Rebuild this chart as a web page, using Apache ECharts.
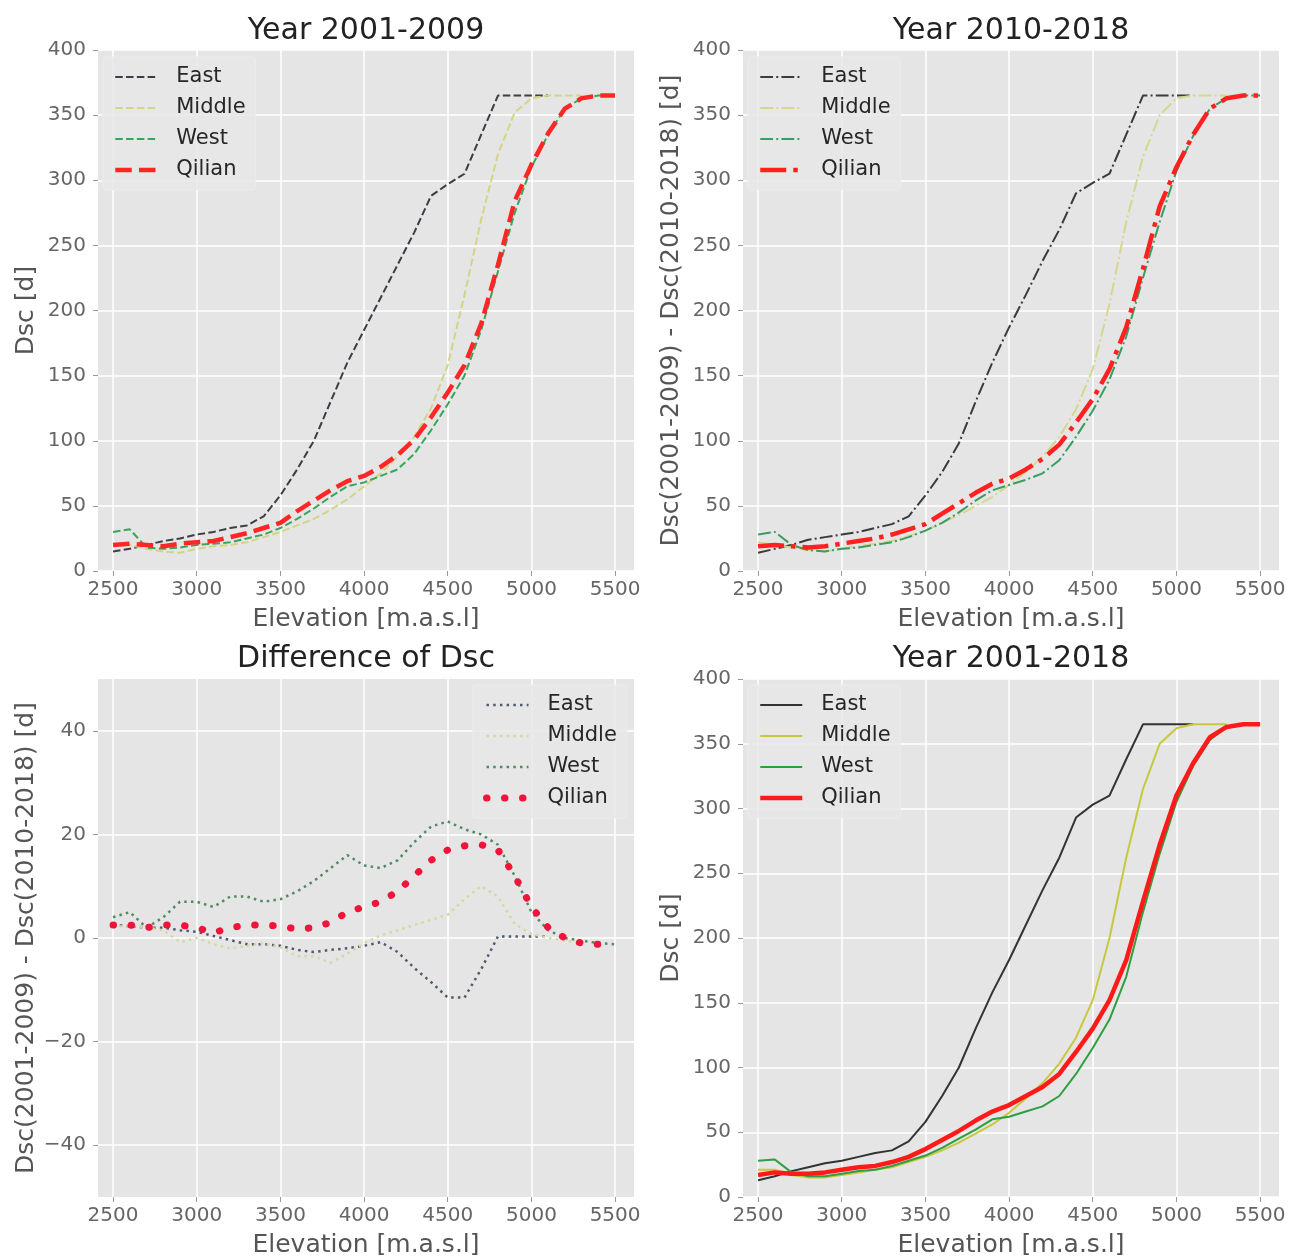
<!DOCTYPE html>
<html>
<head>
<meta charset="utf-8">
<script src="https://cdn.jsdelivr.net/npm/echarts@6/dist/echarts.min.js"></script>
<style>
html,body{margin:0;padding:0;background:#ffffff;}
#chart{width:1291px;height:1259px;}
</style>
</head>
<body>
<div id="chart"></div>
<script>
// ---------------- data ----------------
const elevation = [2500,2600,2700,2800,2900,3000,3100,3200,3300,3400,3500,3600,3700,3800,3900,4000,
                   4100,4200,4300,4400,4500,4600,4700,4800,4900,5000,5100,5200,5300,5400,5500];
const xTickValues = [2500,3000,3500,4000,4500,5000,5500];
const diffTickValues = [-40,-20,0,20,40];
const regions = ['East','Middle','West','Qilian'];
const panelTitles = ['Year 2001-2009','Year 2010-2018','Difference of Dsc','Year 2001-2018'];
const yAxisNames = ['Dsc [d]','Dsc(2001-2009) - Dsc(2010-2018) [d]','Dsc(2001-2009) - Dsc(2010-2018) [d]','Dsc [d]'];
const xAxisName = 'Elevation [m.a.s.l]';

// Year 2001-2009
const east0109   = [15,17,20,23,25,28,30,33,35,42,58,78,100,130,160,185,210,235,260,288,297,305,335,365,365,365,365];
const middle0109 = [21,20,17,15,14,17,19,20,22,26,30,35,40,47,55,65,75,88,103,125,158,212,270,320,352,363,365,365,365];
const west0109   = [30,32,18,17,18,20,21,22,25,28,33,40,48,57,65,68,73,78,90,108,128,150,185,230,275,310,335,355,363,365,365];
const qilian0109 = [20,21,20,19,21,22,23,26,29,33,37,46,54,62,69,73,80,89,101,118,137,158,190,235,284,312,336,355,363,365,365];

// Year 2010-2018
const east1018   = [14,17,20,24,26,28,30,33,36,42,58,76,98,130,160,187,212,238,262,290,298,305,335,365,365,365,365];
const middle1018 = [22,20,18,16,15,17,19,21,23,27,31,37,43,50,57,66,76,88,103,124,155,205,268,318,350,363,365,365,365];
const west1018   = [28,30,20,16,15,17,18,20,22,26,31,37,45,54,62,66,70,75,85,103,123,147,180,225,268,307,334,355,363,365,365];
const qilian1018 = [19,20,19,18,19,21,23,25,28,32,36,44,52,60,67,71,78,86,97,114,132,155,187,232,280,310,335,355,363,365,365];

// Difference of Dsc
const eastDiff   = [2.5,2.3,2,2,1.5,1.2,0.4,-0.4,-1.2,-1.2,-1.5,-2.3,-2.7,-2.3,-2,-1.5,-0.8,-2.7,-5.8,-8.5,-11.5,-11.5,-6,0.3,0.3,0.3,0.3];
const middleDiff = [2,2.5,2,1.5,-0.8,0,-1.2,-2,-1.5,-1,-1.8,-3.5,-3.5,-4.8,-3,-1,0.5,1.5,2.5,3.5,4.5,7.5,10,8,2.7,0.8,0,-0.5,-1];
const westDiff   = [4,5,2,4,7,7,6,8,8,7,7.5,9,11,13.5,16,14,13.5,15,18.5,21.5,22.5,21,20,18,12,5,1.5,0,-0.5,-1,-1.2];
const qilianDiff = [2.5,2.5,2,2.5,2.5,2,1,2,2.5,2.5,2.3,1.7,2,3,5,6,7,9,12,15,17,17.8,18,17,12,6,2,0,-1,-1.2,-1.2];

// Year 2001-2018
const east0118   = [13,16,20,23,26,28,31,34,36,43,58,78,100,130,158,183,210,237,262,293,303,310,338,365,365,365,365];
const middle0118 = [21,21,17,15,15,17,19,21,23,27,31,36,42,49,56,65,76,88,103,123,152,200,262,315,350,362,365,365,365];
const west0118   = [28,29,19,16,16,18,20,21,24,28,32,38,45,52,60,62,66,70,78,95,115,137,170,220,265,305,333,353,363,365,365];
const qilian0118 = [17,19,18,18,19,21,23,24,27,31,37,44,51,59,66,71,78,85,95,112,130,152,183,228,272,310,335,355,363,365,365];

const panelValues = [
  [east0109, middle0109, west0109, qilian0109],
  [east1018, middle1018, west1018, qilian1018],
  [eastDiff, middleDiff, westDiff, qilianDiff],
  [east0118, middle0118, west0118, qilian0118]
];

// ---------------- styles ----------------
const FONT = 'DejaVu Sans';
const gridRects = [
  {left: 98,  top: 50},
  {left: 743, top: 50},
  {left: 98,  top: 679},
  {left: 743, top: 679}
];
const GRID_W = 536, GRID_H = 521;

const panelColors = [
  ['#3d3d45', '#d3d585', '#36a75a', '#ff2626'],
  ['#3b3b3b', '#d6d78e', '#3a9c62', '#ff2020'],
  ['#4f5b6e', '#d6d8a2', '#4f8a62', '#f0143a'],
  ['#333333', '#c8c83e', '#2f9e41', '#ff1a1a']
];
// [thin style, thick (Qilian) style]
const panelLineStyles = [
  [{width: 2,   type: [7.5, 3.3]},            {width: 4.5, type: [16.5, 7.2]}],
  [{width: 2,   type: [12.8, 3.2, 2, 3.2]},   {width: 4.5, type: [26, 7, 4.5, 7]}],
  [{width: 2.5, type: [2.5, 4.2]},            {width: 7,   type: [0.5, 17.5], cap: 'round'}],
  [{width: 2,   type: 'solid'},               {width: 4.5, type: 'solid'}]
];

function pairs(vals) { return vals.map((v, i) => [elevation[i], v]); }
function plainNum(v) { return v < 0 ? '\u2212' + Math.abs(v) : String(v); }

const series = [];
panelValues.forEach((vals, p) => {
  vals.forEach((v, r) => {
    const st = panelLineStyles[p][r === 3 ? 1 : 0];
    series.push({
      type: 'line',
      name: regions[r] + '|' + p,
      xAxisIndex: p,
      yAxisIndex: p,
      data: pairs(v),
      symbol: 'none',
      color: panelColors[p][r],
      lineStyle: Object.assign({color: panelColors[p][r], cap: 'butt'}, st),
      z: 2 + r,
      silent: true,
      animation: false
    });
  });
});

const xAxes = gridRects.map((g, i) => ({
  type: 'value', gridIndex: i, min: 2410, max: 5613,
  axisLine: {show: false, onZero: false},
  axisTick: {show: true, length: 5, customValues: xTickValues, lineStyle: {color: '#999'}},
  axisLabel: {customValues: xTickValues, fontSize: 20, color: '#666', margin: 9, fontFamily: FONT, formatter: plainNum},
  splitLine: {show: true, lineStyle: {color: '#ffffff', width: 1.5}},
  name: xAxisName, nameLocation: 'middle', nameGap: 36,
  nameTextStyle: {fontSize: 25, color: '#555', fontFamily: FONT}
}));

const yAxes = gridRects.map((g, i) => {
  const base = {
    type: 'value', gridIndex: i,
    axisLine: {show: false, onZero: false},
    axisTick: {show: true, length: 5, lineStyle: {color: '#999'}},
    axisLabel: {fontSize: 20, color: '#666', margin: 12, fontFamily: FONT, formatter: plainNum},
    splitLine: {show: true, lineStyle: {color: '#ffffff', width: 1.5}},
    name: yAxisNames[i], nameLocation: 'middle', nameGap: 59,
    nameTextStyle: {fontSize: 25, color: '#555', fontFamily: FONT}
  };
  if (i === 2) {
    base.min = -50; base.max = 50;
    base.axisTick.customValues = diffTickValues;
    base.axisLabel.customValues = diffTickValues;
  } else {
    base.min = 0; base.max = 400; base.interval = 50;
  }
  return base;
});

const legendPos = [
  {left: 103, top: 57},
  {left: 748, top: 57},
  {left: 473, top: 685},
  {left: 748, top: 685}
];
const legends = legendPos.map((pos, p) => ({
  data: regions.map(r => r + '|' + p),
  orient: 'vertical',
  left: pos.left, top: pos.top,
  itemWidth: 42, itemHeight: 14, itemGap: 7,
  padding: [8, 10],
  backgroundColor: 'rgba(232,232,232,0.85)',
  borderColor: 'rgba(236,236,236,0.9)', borderWidth: 1, borderRadius: 3,
  selectedMode: false,
  formatter: n => n.split('|')[0],
  itemStyle: {opacity: 0},
  lineStyle: {width: 'inherit'},
  textStyle: {fontSize: 21, color: '#262626', fontFamily: FONT, lineHeight: 24, padding: [0, 0, 0, 14]}
}));

const titleY = [31, 31, 659, 659];
const graphics = panelTitles.map((t, i) => ({
  type: 'text',
  x: gridRects[i].left + GRID_W / 2,
  y: titleY[i],
  style: {text: t, fontSize: 30, fontFamily: FONT, fill: '#222', align: 'center', verticalAlign: 'middle'}
}));

const chart = echarts.init(document.getElementById('chart'), null, {renderer: 'canvas'});
chart.setOption({
  backgroundColor: '#ffffff',
  animation: false,
  textStyle: {fontFamily: FONT},
  grid: gridRects.map(g => ({left: g.left, top: g.top, width: GRID_W, height: GRID_H,
    show: true, backgroundColor: '#E5E5E5', borderWidth: 0, containLabel: false})),
  xAxis: xAxes,
  yAxis: yAxes,
  legend: legends,
  graphic: graphics,
  series: series
});
</script>
</body>
</html>
